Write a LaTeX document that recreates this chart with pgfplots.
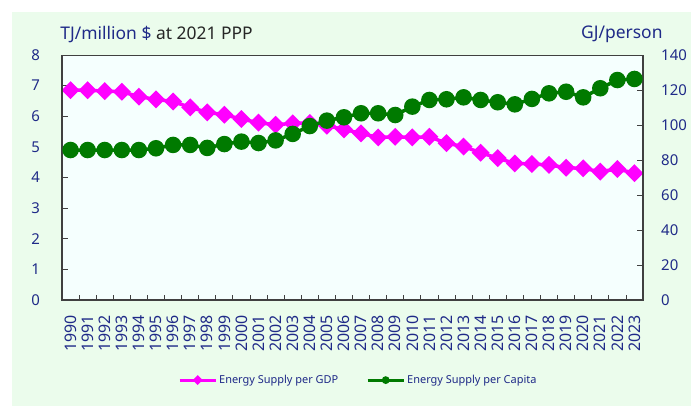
\documentclass[border=0pt]{standalone}
\usepackage{pgfplots}
\pgfplotsset{compat=1.18}
\usepackage{fontspec}
\setmainfont{Noto Sans}
\definecolor{outerbg}{HTML}{EBFCEC}
\definecolor{plotbg}{HTML}{F5FFFE}
\definecolor{navy}{HTML}{1F2A88}
\definecolor{axisgrey}{HTML}{404040}
\definecolor{gdpcol}{HTML}{FF00FF}
\definecolor{capcol}{HTML}{007A00}

\pgfplotstableread{
x gdp cap
0 6.85 85.7
1 6.85 85.7
2 6.82 85.7
3 6.80 85.7
4 6.64 85.7
5 6.55 86.7
6 6.48 88.6
7 6.29 88.6
8 6.13 86.9
9 6.05 89.1
10 5.91 90.5
11 5.79 89.7
12 5.72 91.2
13 5.77 94.9
14 5.78 99.4
15 5.69 102.5
16 5.57 104.4
17 5.44 106.7
18 5.31 106.7
19 5.33 105.7
20 5.31 110.5
21 5.33 114.3
22 5.12 114.7
23 5.01 115.8
24 4.81 114.3
25 4.63 113.0
26 4.46 111.8
27 4.44 114.9
28 4.41 118.1
29 4.32 119.0
30 4.30 115.8
31 4.19 121.0
32 4.28 125.7
33 4.14 126.3
}\datatable

\pgfplotsset{
  common/.style={
    at={(62bp,106bp)}, anchor=south west,
    scale only axis, width=581bp, height=245bp,
    xmin=-0.5, xmax=33.5, ymin=0,
    clip mode=individual,
    tick align=inside,
    major tick length=6bp,
    tick style={axisgrey, line width=0.8bp},
    ticklabel style={font=\fontsize{15}{15}\selectfont, text=navy},
    /pgf/number format/assume math mode=true,
    yticklabel style={inner sep=0pt},
  },
}

\begin{document}
\begin{tikzpicture}
\useasboundingbox (0,0) rectangle (691bp,406bp);
\fill[white] (0,0) rectangle (691bp,406bp);
\fill[outerbg] (12bp,0) rectangle (691bp,394bp);

\begin{axis}[common,
  ymax=8, ytick={0,...,8}, ytick pos=left,
  yticklabel style={xshift=-22bp},
  axis background/.style={fill=plotbg},
  axis line style={axisgrey, line width=0.6bp},
  xtick={0,...,33}, xtick pos=bottom,
  xticklabel={\pgfmathparse{int(1990+\tick)}\pgfmathresult},
  xticklabel style={yshift=-15bp, rotate=90, anchor=east, inner sep=0pt,
    font=\fontsize{16}{16}\selectfont},
  major x tick style={draw=none},
  minor x tick num=1, minor tick length=5bp,
  minor x tick style={axisgrey, line width=0.8bp},
  after end axis/.code={
    \draw[axisgrey, line width=1.6bp] (rel axis cs:0,1) -- (rel axis cs:0,0) -- (rel axis cs:1,0) -- (rel axis cs:1,1);
  },
]
\addplot[gdpcol, line width=3.5bp, mark=square*, mark size=4.6bp,
  mark options={rotate=45, solid}] table[x=x, y=gdp] {\datatable};
\node[anchor=base west, inner sep=0pt, font=\fontsize{17.5}{17.5}\selectfont]
  at (rel axis cs:-0.003,1.065) {\textcolor{navy}{TJ/million \$} \textcolor{black!85}{at 2021 PPP}};
\end{axis}

\begin{axis}[common,
  ymax=140, ytick={0,20,...,140},
  axis y line*=right, axis x line=none,
  axis line style={axisgrey, line width=1.6bp},
  yticklabel style={anchor=west, xshift=18bp},
  legend style={draw=none, fill=none, at={(0.51,-0.327)}, anchor=center,
    font=\fontsize{11}{11}\selectfont, text=navy,
    legend columns=2, /tikz/every even column/.append style={column sep=26bp}},
  legend image code/.code={
    \draw[#1, mark repeat=2, mark phase=2] plot coordinates {(0bp,0bp) (18bp,0bp) (36bp,0bp)};
  },
]
\addlegendimage{gdpcol, line width=3bp, mark=square*, mark size=2bp, mark options={rotate=45}}
\addlegendentry{Energy Supply per GDP}
\addlegendimage{capcol, line width=3bp, mark=*, mark size=2.3bp}
\addlegendentry{Energy Supply per Capita}
\addplot[capcol, line width=3.5bp, mark=*, mark size=6.5bp, forget plot] table[x=x, y=cap] {\datatable};
\node[anchor=base east, inner sep=0pt, font=\fontsize{17.5}{17.5}\selectfont, text=navy]
  at (rel axis cs:1.034,1.069) {GJ/person};
\end{axis}
\end{tikzpicture}
\end{document}
